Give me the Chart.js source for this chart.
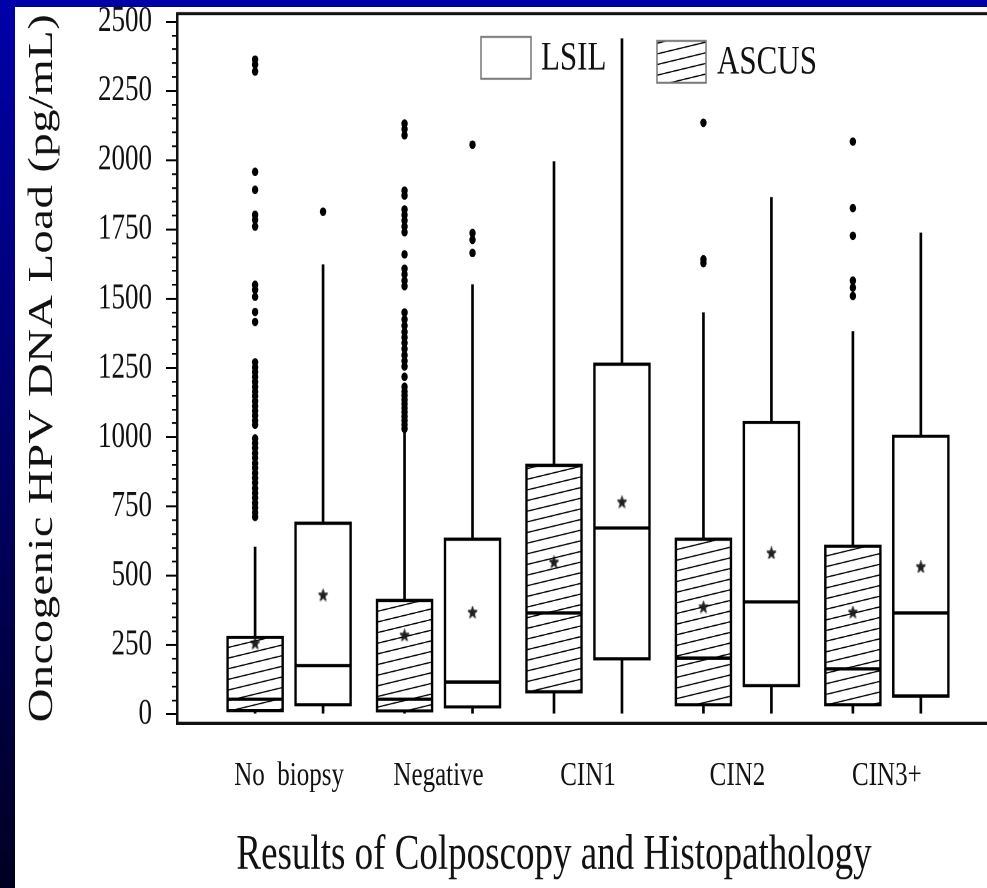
<!DOCTYPE html>
<html lang="en">
<head>
  <meta charset="UTF-8">
  <title>Oncogenic HPV DNA Load by Colposcopy and Histopathology</title>
  <script src="https://cdn.jsdelivr.net/npm/chart.js"></script>
  <style>
    html, body {
      margin: 0;
      padding: 0;
      width: 987px;
      height: 888px;
      overflow: hidden;
    }

    body {
      position: relative;
      background: linear-gradient(to bottom, #0000a8 0%, #00006e 45%, #000022 100%);
    }

    /* the source figure is stretched vertically, so the canvas is drawn
       at 662px tall and shown at 881px (inline size below) */
    #hpvChart {
      position: absolute;
      left: 15px;
      top: 7px;
      background: #fff;
    }
  </style>
</head>
<body>

  <canvas id="hpvChart" width="972" height="662" style="width: 972px; height: 881px;"></canvas>

  <script>
    const categories = ['No  biopsy', 'Negative', 'CIN1', 'CIN2', 'CIN3+'];
    const seriesNames = ['LSIL', 'ASCUS'];
    const xTitle = 'Results of Colposcopy and Histopathology';
    const yTitle = 'Oncogenic HPV DNA Load (pg/mL)';
    const yTickValues = [0, 250, 500, 750, 1000, 1250, 1500, 1750, 2000, 2250, 2500];
    const yMinorStep = 50;

    // ASCUS (hatched boxes, left of each pair)
    const ascusLow    = [0, 0, 0, 0, 0];
    const ascusQ1     = [8, 7, 76, 29, 29];
    const ascusMedian = [54, 54, 365, 202, 163];
    const ascusQ3     = [282, 415, 903, 636, 611];
    const ascusHigh   = [603, 1019, 1994, 1449, 1381];
    const ascusMean   = [256, 285, 549, 387, 368];
    const ascusOutliers = [
      [2363, 2345, 2320, 1958, 1893, 1803, 1785, 1760, 1550, 1532, 1507, 1452, 1416,
       1270, 1252, 1235, 1218, 1200, 1182, 1165, 1148, 1130, 1112, 1095, 1078, 1060, 1045,
       995, 978, 960, 942, 925, 905, 888, 870, 852, 835, 815, 798, 780, 762, 745, 728, 712],
      [2132, 2112, 2090, 1890, 1872, 1822, 1802, 1782, 1760, 1740, 1660, 1608, 1588, 1565, 1545,
       1450, 1425, 1402, 1380, 1360, 1340, 1318, 1296, 1275, 1255, 1218,
       1182, 1165, 1150, 1135, 1120, 1105, 1090, 1075, 1060, 1045, 1030],
      [],
      [2135, 1642, 1628],
      [2067, 1827, 1727, 1565, 1540, 1510]
    ];

    // LSIL (open boxes, right of each pair)
    const lsilLow    = [0, 0, 0, 0, 0];
    const lsilQ1     = [29, 21, 195, 98, 61];
    const lsilMedian = [175, 116, 672, 405, 365];
    const lsilQ3     = [694, 636, 1268, 1058, 1008];
    const lsilHigh   = [1622, 1550, 2438, 1865, 1737];
    const lsilMean   = [430, 368, 766, 582, 532];
    const lsilOutliers = [[1814], [2056, 1737, 1712, 1665], [], [], []];

    const SHIFT = 0.2274;   // half distance between the two boxes of a pair (x units)
    const X_MIN = -0.75;
    const X_MAX = 4.67;
    const Y_MIN = -32;
    const Y_MAX = 2529;

    const boxData = (lo, hi, dx) => lo.map((v, i) => ({ x: i + dx, y: [v, hi[i]] }));
    const pointData = (vals, dx) => vals.map((v, i) => ({ x: i + dx, y: v }));
    const outlierData = (lists, dx) => lists.flatMap((vals, i) => vals.map(v => ({ x: i + dx, y: v })));

    const minorTicks = [];
    for (let v = 0; v <= yTickValues[yTickValues.length - 1]; v += yMinorStep) minorTicks.push(v);

    // diagonal hatch for ASCUS, drawn at 2x and scaled back
    function makeHatch() {
      const w = 88, h = 16;
      const c = document.createElement('canvas');
      c.width = w; c.height = h;
      const g = c.getContext('2d');
      g.fillStyle = '#fff';
      g.fillRect(0, 0, w, h);
      g.strokeStyle = '#000';
      g.lineWidth = 2;
      for (const off of [-h, 0, h]) {
        g.beginPath();
        g.moveTo(-w, 2 * h + off);
        g.lineTo(2 * w, -h + off);
        g.stroke();
      }
      const p = g.createPattern(c, 'repeat');
      p.setTransform(new DOMMatrix([0.5, 0, 0, 0.5, 0, 0]));
      return p;
    }

    // small 5-point star used for the means
    function makeStar() {
      const c = document.createElement('canvas');
      c.width = 11; c.height = 10;
      const g = c.getContext('2d');
      g.translate(5.5, 5.3);
      g.beginPath();
      for (let k = 0; k < 10; k++) {
        const r = k % 2 ? 1.9 : 4.8;
        const a = -Math.PI / 2 + k * Math.PI / 5;
        g.lineTo(r * Math.cos(a), r * Math.sin(a));
      }
      g.closePath();
      g.fillStyle = '#222';
      g.fill();
      g.lineWidth = 0.8;
      g.strokeStyle = '#000';
      g.stroke();
      return c;
    }

    const hatch = makeHatch();
    const star = makeStar();

    // top frame line, y title, key and x title
    const frameAndKey = {
      id: 'frameAndKey',
      afterDraw(chart) {
        const { ctx, chartArea: a } = chart;
        ctx.save();
        ctx.strokeStyle = '#111';
        ctx.lineWidth = 2.3;
        ctx.beginPath();
        ctx.moveTo(a.left, a.top);
        ctx.lineTo(a.right, a.top);
        ctx.stroke();

        // y title, spread along the axis
        ctx.save();
        ctx.translate(28, (a.top + a.bottom) / 2);
        ctx.rotate(-Math.PI / 2);
        ctx.font = '35px "Liberation Serif", serif';
        ctx.fillStyle = '#111';
        ctx.textBaseline = 'middle';
        ctx.textAlign = 'left';
        const natural = ctx.measureText(yTitle).width;
        const gap = Math.max(0, (532 - natural) / (yTitle.length - 1));
        ctx.letterSpacing = gap.toFixed(2) + 'px';
        ctx.fillText(yTitle, -266, 0);
        ctx.restore();

        // key
        ctx.lineWidth = 1.5;
        ctx.strokeStyle = '#777';
        ctx.fillStyle = '#fff';
        ctx.fillRect(a.left + 304, a.top + 17.5, 50, 31.5);
        ctx.strokeRect(a.left + 304, a.top + 17.5, 50, 31.5);
        ctx.fillStyle = hatch;
        ctx.fillRect(a.left + 480, a.top + 20.5, 49, 31.5);
        ctx.strokeRect(a.left + 480, a.top + 20.5, 49, 31.5);

        ctx.fillStyle = '#111';
        ctx.textAlign = 'left';
        ctx.textBaseline = 'middle';
        ctx.font = '31px "Liberation Serif", serif';
        ctx.fillText(seriesNames[0], a.left + 364, a.top + 34);
        ctx.fillText(seriesNames[1], a.left + 540, a.top + 37);

        ctx.textAlign = 'center';
        ctx.font = '37px "Liberation Serif", serif';
        ctx.fillText(xTitle, a.left + 377, chart.height - 24);
        ctx.restore();
      }
    };

    Chart.defaults.font.family = '"Liberation Serif", "Times New Roman", serif';
    Chart.defaults.color = '#111';

    // the plot frame sits right at the top, so the tick-label overhang is not reserved
    const noOverhang = (s) => { s.paddingTop = 0; s.paddingBottom = 0; };

    const ctx = document.getElementById('hpvChart').getContext('2d');

    new Chart(ctx, {
      type: 'bar',
      data: {
        datasets: [
          {
            type: 'scatter', label: 'ASCUS outliers',
            data: outlierData(ascusOutliers, -SHIFT),
            pointStyle: 'circle', pointRadius: 3.2,
            pointBackgroundColor: '#000', pointBorderWidth: 0
          },
          {
            type: 'scatter', label: 'LSIL outliers',
            data: outlierData(lsilOutliers, SHIFT),
            pointStyle: 'circle', pointRadius: 3.2,
            pointBackgroundColor: '#000', pointBorderWidth: 0
          },
          {
            type: 'scatter', label: 'ASCUS mean',
            data: pointData(ascusMean, -SHIFT),
            pointStyle: star, pointRadius: 5
          },
          {
            type: 'scatter', label: 'LSIL mean',
            data: pointData(lsilMean, SHIFT),
            pointStyle: star, pointRadius: 5
          },
          {
            type: 'scatter', label: 'ASCUS median',
            data: pointData(ascusMedian, -SHIFT),
            pointStyle: 'line', pointRadius: 27,
            pointBorderColor: '#000', pointBorderWidth: 2.5
          },
          {
            type: 'scatter', label: 'LSIL median',
            data: pointData(lsilMedian, SHIFT),
            pointStyle: 'line', pointRadius: 27,
            pointBorderColor: '#000', pointBorderWidth: 2.5
          },
          {
            label: 'ASCUS',
            data: boxData(ascusQ1, ascusQ3, -SHIFT),
            backgroundColor: hatch,
            borderColor: '#000', borderWidth: 2.5, borderSkipped: false,
            barThickness: 57, grouped: false
          },
          {
            label: 'LSIL',
            data: boxData(lsilQ1, lsilQ3, SHIFT),
            backgroundColor: '#fff',
            borderColor: '#000', borderWidth: 2.5, borderSkipped: false,
            barThickness: 57, grouped: false
          },
          {
            label: 'ASCUS whiskers',
            data: boxData(ascusLow, ascusHigh, -SHIFT),
            backgroundColor: '#000', borderWidth: 0,
            barThickness: 2, grouped: false
          },
          {
            label: 'LSIL whiskers',
            data: boxData(lsilLow, lsilHigh, SHIFT),
            backgroundColor: '#000', borderWidth: 0,
            barThickness: 2, grouped: false
          }
        ]
      },
      options: {
        responsive: false,
        devicePixelRatio: 2,
        animation: false,
        events: [],
        layout: { autoPadding: false, padding: { top: 5, left: 0, right: 0, bottom: 0 } },
        plugins: {
          legend: { display: false },
          tooltip: { enabled: false }
        },
        scales: {
          y: {
            type: 'linear',
            min: Y_MIN,
            max: Y_MAX,
            afterFit: (s) => { s.width = 162; noOverhang(s); },
            afterBuildTicks: (s) => { s.ticks = yTickValues.map(v => ({ value: v })); },
            ticks: {
              padding: 14,
              color: '#111',
              font: { size: 27 },
              callback: (v) => String(v)
            },
            grid: { drawOnChartArea: false, tickLength: 11, color: '#000', lineWidth: 1.5 },
            border: { display: true, color: '#111', width: 2.5 }
          },
          yMinor: {
            type: 'linear',
            axis: 'y',
            position: { x: X_MIN },
            min: Y_MIN,
            max: Y_MAX,
            afterFit: noOverhang,
            afterBuildTicks: (s) => { s.ticks = minorTicks.map(v => ({ value: v })); },
            ticks: { display: false, autoSkip: false },
            grid: { drawOnChartArea: false, tickLength: 5, color: '#000', lineWidth: 1.3 },
            border: { display: false }
          },
          x: {
            type: 'linear',
            min: X_MIN,
            max: X_MAX,
            offset: false,
            afterFit: (s) => { s.height = 124; },
            afterBuildTicks: (s) => { s.ticks = categories.map((c, i) => ({ value: i })); },
            ticks: {
              autoSkip: false,
              maxRotation: 0,
              padding: 25,
              color: '#111',
              font: { size: 25 },
              callback: (v) => categories[v] ?? ''
            },
            grid: { display: false, drawTicks: false },
            border: { display: true, color: '#111', width: 2.5 }
          }
        }
      },
      plugins: [frameAndKey]
    });
  </script>

</body>
</html>
